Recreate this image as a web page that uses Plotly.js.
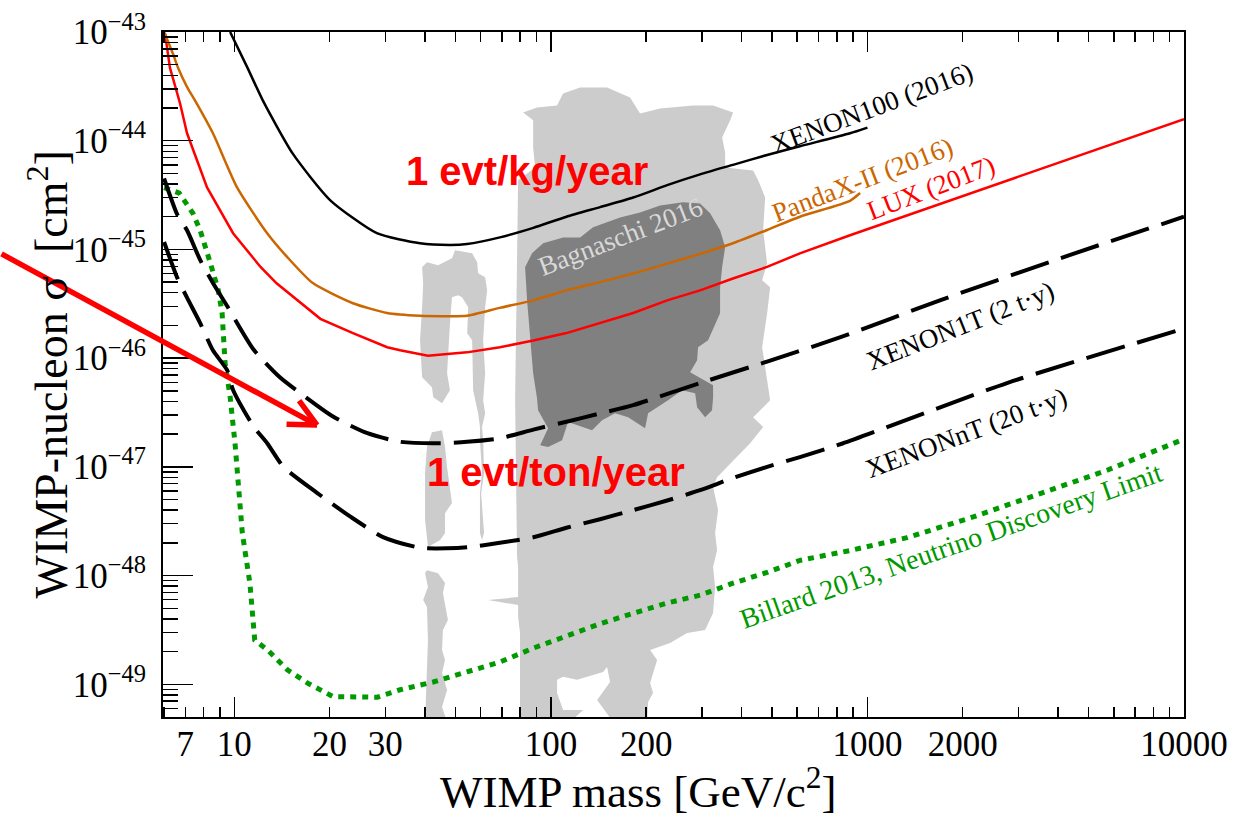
<!DOCTYPE html>
<html>
<head>
<meta charset="utf-8">
<script src="https://cdn.plot.ly/plotly-3.0.1.min.js"></script>
<style>
html,body{margin:0;padding:0;background:#fff;}
#chart{width:1258px;height:820px;}
</style>
</head>
<body>
<div id="chart"></div>
<script>
// ---------- data (mass in GeV/c^2, cross-section in cm^2) ----------
const xenon100Mass  = [9.7, 11.0, 12.3, 15.3, 20.1, 28.2, 38.6, 48, 54.3, 69, 88, 112, 143, 182, 233, 296, 376, 482, 612, 881, 1000];
const xenon100Sigma = [1.0e-43, 4.7e-44, 2.35e-44, 7.6e-45, 2.83e-45, 1.41e-45, 1.14e-45, 1.10e-45, 1.12e-45, 1.29e-45, 1.58e-45, 2.0e-45, 2.45e-45, 3.0e-45, 3.9e-45, 4.9e-45, 6.0e-45, 7.4e-45, 8.9e-45, 1.17e-44, 1.32e-44];

const pandaxMass  = [6.0, 6.4, 6.64, 7.1, 7.51, 8.56, 10.2, 12.7, 14.7, 17.7, 23.7, 30.4, 38.6, 45, 54.3, 69, 88, 112, 143, 182, 233, 296, 376, 482, 612, 881, 948];
const pandaxSigma = [1.0e-43, 6.3e-44, 4.7e-44, 3.1e-44, 2.35e-44, 1.17e-44, 3.72e-45, 1.41e-45, 8.5e-46, 4.9e-46, 3.2e-46, 2.6e-46, 2.45e-46, 2.43e-46, 2.45e-46, 2.9e-46, 3.4e-46, 4.2e-46, 5.0e-46, 6.0e-46, 7.4e-46, 9.1e-46, 1.14e-45, 1.51e-45, 2.0e-45, 2.8e-45, 3.3e-45];

const luxMass  = [6.04, 6.26, 6.74, 7.09, 8.2, 9.91, 12.1, 13.6, 18.7, 23.7, 30.4, 33.4, 40.9, 54.3, 69, 88, 112, 143, 182, 233, 296, 376, 482, 612, 881, 10000];
const luxSigma = [9.7e-44, 4.7e-44, 2.2e-44, 1.17e-44, 3.72e-45, 1.41e-45, 6.9e-46, 4.88e-46, 2.3e-46, 1.7e-46, 1.26e-46, 1.18e-46, 1.05e-46, 1.13e-46, 1.26e-46, 1.45e-46, 1.7e-46, 2.1e-46, 2.6e-46, 3.4e-46, 4.2e-46, 5.4e-46, 6.9e-46, 9.2e-46, 1.35e-45, 1.58e-44];

const xenon1tMass  = [6.0, 6.6, 7.09, 7.8, 8.56, 9.5, 11.5, 13.9, 16.1, 20.5, 26.2, 33.4, 44.7, 54.3, 69, 88, 112, 143, 182, 296, 482, 818, 1694, 4466, 10000];
const xenon1tSigma = [4.5e-45, 2.1e-45, 1.5e-45, 8.0e-46, 4.9e-46, 3.0e-46, 1.2e-46, 6.7e-47, 4.8e-47, 2.9e-47, 2.05e-47, 1.7e-47, 1.65e-47, 1.7e-47, 1.83e-47, 2.2e-47, 2.6e-47, 3.1e-47, 3.7e-47, 5.9e-47, 9.3e-47, 1.55e-46, 3.4e-46, 9.1e-46, 2.0e-45];

const xenonntMass  = [6.0, 6.6, 7.09, 7.8, 8.56, 9.5, 9.91, 11.5, 12.7, 14.3, 18.2, 23.2, 29.5, 38.6, 47, 54.3, 69, 88, 112, 143, 182, 233, 296, 376, 482, 612, 834, 2760, 10000];
const xenonntSigma = [1.17e-45, 5.5e-46, 3.6e-46, 2.1e-46, 1.18e-46, 7.7e-47, 5.1e-47, 2.35e-47, 1.65e-47, 1.0e-47, 5.8e-48, 3.5e-48, 2.26e-48, 1.8e-48, 1.78e-48, 1.82e-48, 2.0e-48, 2.25e-48, 2.75e-48, 3.3e-48, 4.0e-48, 4.9e-48, 6.1e-48, 7.9e-48, 1.0e-47, 1.23e-47, 1.64e-47, 5.9e-47, 1.87e-46];

const billardMass  = [6.0, 6.7, 7.4, 7.8, 8.4, 8.9, 9.15, 9.35, 9.7, 10.05, 10.6, 11.2, 11.6, 12.7, 14.7, 17.0, 20.5, 23.2, 28.3, 33.4, 42.5, 54.3, 69, 88, 112, 143, 182, 233, 296, 376, 482, 612, 881, 1333, 2157, 3514, 5715, 10000];
const billardSigma = [3.7e-45, 3.3e-45, 2.15e-45, 1.5e-45, 7.5e-46, 4.2e-46, 2.6e-46, 9.0e-47, 4.4e-47, 1.65e-47, 2.45e-48, 8.5e-49, 2.55e-49, 2.08e-49, 1.36e-49, 1.03e-49, 7.7e-50, 7.6e-50, 7.6e-50, 8.9e-50, 1.05e-49, 1.3e-49, 1.6e-49, 2.15e-49, 2.8e-49, 3.6e-49, 4.5e-49, 5.6e-49, 6.6e-49, 8.5e-49, 1.07e-48, 1.38e-48, 1.7e-48, 2.23e-48, 3.46e-48, 5.7e-48, 9.3e-48, 1.8e-47];

// Bagnaschi 2016 regions (outlines)
const bagMainMass  = [81.7, 90.4, 104.6, 109.3, 123.7, 150.5, 177.9, 191.3, 221.3, 281.4, 325.4, 376.5, 368.4, 347.5, 355.2, 355.2, 435.5, 451.6, 475.2, 468.3, 482.1, 464.9, 492.8, 482.1, 464.9, 482.1, 492.8, 435.5, 468.3, 426.1, 376.5, 335.0, 325.4, 337.5, 330.2, 335.0, 325.4, 330.2, 325.4, 307.0, 269.4, 238.0, 205.8, 216.6, 205.8, 210.3, 202.8, 201.4, 157.2, 140.0, 153.8, 150.5, 146.2, 121.0, 109.3, 104.6, 104.6, 109.3, 126.4, 115.0, 79.9, 79.9, 78.8, 78.8, 63.3, 78.8, 78.8, 78.2, 77.1, 78.2, 78.8, 89.2, 87.9, 87.9];
const bagMainSigma = [1.82e-44, 2.02e-44, 2.11e-44, 2.72e-44, 3.09e-44, 3.09e-44, 2.50e-44, 1.78e-44, 1.98e-44, 2.11e-44, 2.11e-44, 1.82e-44, 1.54e-44, 1.07e-44, 7.80e-45, 5.68e-45, 5.33e-45, 4.32e-45, 3.01e-45, 1.50e-45, 7.45e-46, 5.20e-46, 4.48e-46, 2.59e-46, 1.26e-46, 6.26e-47, 4.10e-47, 2.86e-47, 2.32e-47, 1.65e-47, 1.15e-47, 8.04e-48, 6.51e-48, 4.00e-48, 2.46e-48, 1.72e-48, 1.20e-48, 7.84e-49, 4.52e-49, 3.16e-49, 2.96e-49, 2.40e-49, 2.07e-49, 1.67e-49, 1.03e-49, 8.32e-50, 6.88e-50, 4.5e-50, 4.5e-50, 7.17e-50, 1.05e-49, 1.44e-49, 1.30e-49, 1.10e-49, 1.17e-49, 1.10e-49, 8.32e-50, 5.80e-50, 5.80e-50, 4.5e-50, 4.5e-50, 2.96e-49, 4.16e-49, 5.36e-49, 5.95e-49, 6.34e-49, 1.20e-48, 1.48e-48, 4.10e-47, 1.05e-45, 4.32e-45, 5.68e-45, 8.68e-45, 1.54e-44];

const bagUpperStripMass  = [39.2, 40.6, 44.0, 48.7, 49.8, 56.4, 58.5, 58.9, 62.0, 62.9, 62.0, 61.1, 62.0, 61.1, 62.0, 60.6, 61.1, 61.5, 60.2, 61.5, 60.6, 59.7, 59.7, 60.6, 59.7, 59.7, 58.9, 56.8, 56.4, 54.4, 54.8, 52.4, 50.9, 48.7, 48.0, 47.0, 48.0, 45.3, 42.5, 42.1, 39.2, 38.6, 39.2, 39.5];
const bagUpperStripSigma = [6.85e-46, 7.61e-46, 7.14e-46, 8.28e-46, 9.81e-46, 9.21e-46, 7.61e-46, 6.03e-46, 5.54e-46, 4.21e-46, 2.94e-46, 1.46e-46, 7.26e-47, 4.10e-47, 3.12e-47, 2.32e-47, 1.76e-47, 8.75e-48, 5.73e-48, 2.46e-48, 2.12e-48, 2.46e-48, 5.73e-48, 8.75e-48, 1.76e-47, 2.32e-47, 3.12e-47, 5.07e-47, 1.46e-46, 1.69e-46, 2.94e-46, 3.63e-46, 3.79e-46, 3.63e-46, 2.09e-46, 7.26e-47, 5.07e-47, 3.85e-47, 4.37e-47, 5.40e-47, 6.67e-47, 1.46e-46, 2.94e-46, 4.88e-46];

const bagMidStripMass  = [42.1, 45.3, 46.3, 47.0, 48.7, 46.3, 46.3, 44.7, 40.9, 40.05, 40.05, 40.6];
const bagMidStripSigma = [2.08e-47, 2.17e-47, 1.52e-47, 9.94e-48, 4.64e-48, 3.75e-48, 2.46e-48, 2.12e-48, 1.83e-48, 3.24e-48, 8.75e-48, 1.52e-47];

const bagLowStripMass  = [40.6, 44.0, 46.3, 45.6, 47.3, 45.6, 45.3, 46.3, 45.3, 47.0, 45.3, 47.0, 40.05, 40.6, 40.9, 40.6, 39.5, 40.9, 40.05];
const bagLowStripSigma = [1.12e-48, 1.05e-48, 8.53e-49, 6.91e-49, 3.90e-49, 3.16e-49, 2.07e-49, 1.67e-49, 1.27e-49, 8.86e-50, 6.19e-50, 4.5e-50, 4.5e-50, 1.27e-49, 2.55e-49, 5.13e-49, 5.95e-49, 7.84e-49, 1.05e-48];

const bagCoreMass  = [82.9, 87.2, 94.5, 109.3, 123.7, 135.9, 165.4, 191.3, 221.3, 261.6, 296.0, 318.4, 342.4, 355.2, 347.5, 342.4, 342.4, 313.8, 291.7, 289.7, 275.3, 325.4, 325.4, 323.0, 307.0, 289.7, 285.5, 259.7, 234.5, 202.8, 198.4, 175.4, 159.5, 145.1, 134.9, 125.5, 113.3, 108.5, 98.0, 92.5, 98.0, 91.1, 90.4, 87.9, 86.0, 84.1];
const bagCoreSigma = [6.85e-46, 9.21e-46, 1.14e-45, 1.29e-45, 1.29e-45, 1.60e-45, 1.97e-45, 2.19e-45, 2.54e-45, 2.71e-45, 2.65e-45, 2.15e-45, 1.50e-45, 1.05e-45, 6.85e-46, 4.48e-46, 2.59e-46, 1.46e-46, 1.26e-46, 9.56e-47, 7.42e-47, 5.64e-47, 4.37e-47, 3.32e-47, 2.86e-47, 3.54e-47, 4.76e-47, 5.07e-47, 4.10e-47, 3.12e-47, 2.27e-47, 2.86e-47, 3.12e-47, 2.69e-47, 2.17e-47, 2.32e-47, 2.58e-47, 1.76e-47, 1.52e-47, 1.58e-47, 2.27e-47, 3.32e-47, 4.28e-47, 7.26e-47, 1.46e-46, 3.41e-46];

// ---------- tick labels ----------
const massDecades  = [10, 100, 1000, 10000];
const massTicks    = [7, 10, 20, 30, 100, 200, 1000, 2000, 10000];
const massLabels   = ['7', '10', '20', '30', '100', '200', '1000', '2000', '10000'];
const sigmaDecades = [1e-49, 1e-48, 1e-47, 1e-46, 1e-45, 1e-44, 1e-43];
const sigmaLabels  = ['10<sup>\u221249</sup>', '10<sup>\u221248</sup>', '10<sup>\u221247</sup>', '10<sup>\u221246</sup>', '10<sup>\u221245</sup>', '10<sup>\u221244</sup>', '10<sup>\u221243</sup>'];

// minor tick positions (2..9 within each decade)
const massMinor = [];
[1, 10, 100, 1000].forEach(d => { for (let k = 2; k <= 9; k++) { const v = k * d; if (v >= 6 && v < 10000) massMinor.push(v); } });
const sigmaMinor = [];
[1e-50, 1e-49, 1e-48, 1e-47, 1e-46, 1e-45, 1e-44].forEach(d => { for (let k = 2; k <= 9; k++) { const v = k * d; if (v > 5.1e-50 && v < 1e-43) sigmaMinor.push(v); } });

const SERIF = 'Liberation Serif, Times New Roman, serif';
const SANS = 'Liberation Sans, Arial, sans-serif';

function region(x, y, color) {
  return {x: x, y: y, type: 'scatter', mode: 'lines', fill: 'toself', fillcolor: color,
          line: {width: 0, color: color}, hoverinfo: 'skip', showlegend: false};
}
function curve(x, y, color, width, dash, shape) {
  return {x: x, y: y, type: 'scatter', mode: 'lines',
          line: {color: color, width: width, dash: dash || 'solid', shape: shape || 'linear', smoothing: 0.6},
          hoverinfo: 'skip', showlegend: false};
}

const traces = [
  region(bagMainMass, bagMainSigma, '#cccccc'),
  region(bagUpperStripMass, bagUpperStripSigma, '#cccccc'),
  region(bagMidStripMass, bagMidStripSigma, '#cccccc'),
  region(bagLowStripMass, bagLowStripSigma, '#cccccc'),
  region(bagCoreMass, bagCoreSigma, '#808080'),
  curve(billardMass, billardSigma, '#009900', 5, '6px,6px'),
  curve(xenonntMass, xenonntSigma, '#000000', 4, '40px,13px', 'spline'),
  curve(xenon1tMass, xenon1tSigma, '#000000', 4, '40px,13px', 'spline'),
  curve(luxMass, luxSigma, '#ff0000', 2.5),
  curve(pandaxMass, pandaxSigma, '#cc6600', 2.5, 'solid', 'spline'),
  curve(xenon100Mass, xenon100Sigma, '#000000', 2.5, 'solid', 'spline'),
  {x: [], y: [], xaxis: 'x2', yaxis: 'y', type: 'scatter', mode: 'lines', hoverinfo: 'skip', showlegend: false}
];

const L = Math.log10;
function label(text, m, s, angle, color, size, family, bold) {
  return {text: bold ? '<b>' + text + '</b>' : text, x: L(m), y: L(s), xref: 'x', yref: 'y',
          showarrow: false, textangle: angle, xanchor: 'center', yanchor: 'middle',
          font: {family: family || SERIF, size: size || 27, color: color}};
}
const tipMass = 18.25, tipSigma = 2.42e-47;
function arrowPiece(ax, ay) {
  return {text: '', x: L(tipMass), y: L(tipSigma), xref: 'x', yref: 'y', ax: ax, ay: ay,
          axref: 'pixel', ayref: 'pixel', showarrow: true, arrowhead: 0, arrowwidth: 5.5,
          arrowcolor: '#ff0000', standoff: 0, startstandoff: 0};
}

const annotations = [
  label('XENON100 (2016)', 1035, 1.98e-44, -20.5, '#000000', 27),
  label('PandaX-II (2016)', 962, 4.32e-45, -21, '#cc6600', 27),
  label('LUX (2017)', 1590, 3.64e-45, -21, '#ff0000', 27),
  label('XENON1T (2 t\u00b7y)', 1963, 1.96e-46, -21.5, '#000000', 27),
  label('XENONnT (20 t\u00b7y)', 2050, 2.04e-47, -20.5, '#000000', 27),
  label('Billard 2013, Neutrino Discovery Limit', 1839, 1.91e-48, -19.5, '#009900', 28),
  label('Bagnaschi 2016', 165.4, 1.29e-45, -21, '#d9d9d9', 27),
  label('1 evt/kg/year', 84.1, 5.3e-45, 0, '#ff0000', 40, SANS, true),
  label('1 evt/ton/year', 103.9, 8.9e-48, 0, '#ff0000', 40, SANS, true),
  arrowPiece(-317, -172),
  arrowPiece(-32, -1),
  arrowPiece(-19, -26),
  {text: 'WIMP mass [GeV/c<sup>2</sup>]', xref: 'paper', yref: 'paper', x: 0.466, y: -0.1489,
   xanchor: 'center', yanchor: 'bottom', showarrow: false, font: {family: SERIF, size: 45, color: '#000'}},
  {text: 'WIMP-nucleon \u03c3\u00a0\u00a0[cm<sup>2</sup>]', xref: 'paper', yref: 'paper', x: -0.1136, y: 0.500,
   xanchor: 'center', yanchor: 'middle', textangle: -90, showarrow: false, font: {family: SERIF, size: 46, color: '#000'}}
];

const xRange = [0.7747, 4.0];
const yRange = [L(5.0e-50), -43];

const layout = {
  width: 1258, height: 820,
  margin: {l: 163, r: 74, t: 32, b: 103, pad: 0},
  paper_bgcolor: '#ffffff', plot_bgcolor: '#ffffff',
  showlegend: false,
  font: {family: SERIF, color: '#000'},
  xaxis: {
    type: 'log', range: xRange, autorange: false,
    tickmode: 'array', tickvals: massDecades, showticklabels: false,
    ticks: 'inside', ticklen: 20, tickwidth: 1.5, tickcolor: '#000',
    minor: {tickmode: 'array', tickvals: massMinor, ticks: 'inside', ticklen: 10, tickwidth: 1.5, tickcolor: '#000', showgrid: false},
    showline: true, linecolor: '#000', linewidth: 2, mirror: 'ticks',
    showgrid: false, zeroline: false
  },
  xaxis2: {
    type: 'log', range: xRange, autorange: false, overlaying: 'x', anchor: 'y', side: 'bottom',
    tickmode: 'array', tickvals: massTicks, ticktext: massLabels,
    ticks: '', showline: false, showgrid: false, zeroline: false,
    tickfont: {family: SERIF, size: 35, color: '#000'},
    ticklabelstandoff: 3
  },
  yaxis: {
    type: 'log', range: yRange, autorange: false,
    tickmode: 'array', tickvals: sigmaDecades, ticktext: sigmaLabels,
    ticks: 'inside', ticklen: 30, tickwidth: 1.5, tickcolor: '#000',
    minor: {tickmode: 'array', tickvals: sigmaMinor, ticks: 'inside', ticklen: 15, tickwidth: 1.5, tickcolor: '#000', showgrid: false},
    showline: true, linecolor: '#000', linewidth: 2, mirror: true,
    showgrid: false, zeroline: false,
    tickfont: {family: SERIF, size: 35, color: '#000'},
    ticklabelstandoff: 8
  },
  annotations: annotations
};

Plotly.newPlot('chart', traces, layout, {displayModeBar: false, staticPlot: true});
</script>
</body>
</html>
